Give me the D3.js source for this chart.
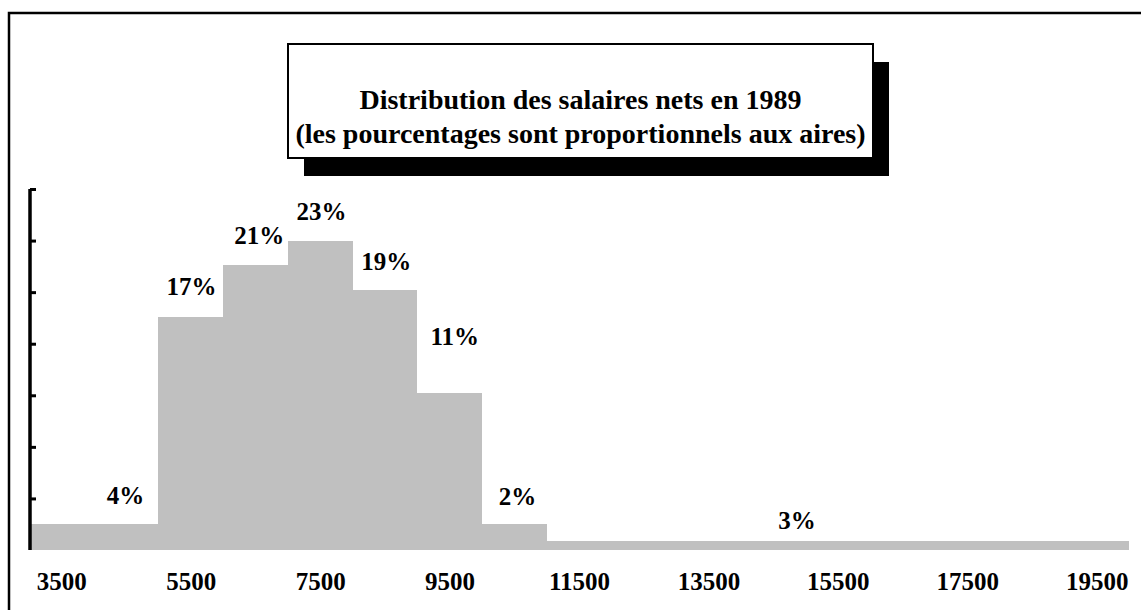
<!DOCTYPE html>
<html><head><meta charset="utf-8">
<script src="https://cdn.jsdelivr.net/npm/d3@7"></script>
<style>html,body{margin:0;padding:0;background:#fff;}svg{display:block;}</style>
</head><body>
<svg id="chart" width="1141" height="610"></svg>
<script>
// Bin edges (net salary, francs)
const binStart = [3000, 5000, 6000, 7000, 8000, 9000, 10000, 11000];
const binEnd   = [5000, 6000, 7000, 8000, 9000, 10000, 11000, 20000];
// Bar heights (density)
const density  = [2.0, 18.1, 22.1, 24.0, 20.2, 12.2, 2.0, 0.7];
// Percent labels
const pctLabels = ["4%", "17%", "21%", "23%", "19%", "11%", "2%", "3%"];
// Label anchor in data units (salary, density)
const labelSalary  = [4490, 5510, 6560, 7520, 8520, 9580, 10550, 14870];
const labelDensity = [3.6, 19.8, 23.7, 25.6, 21.7, 15.9, 3.5, 1.6];
// Axis ticks
const xTicks = [3500, 5500, 7500, 9500, 11500, 13500, 15500, 17500, 19500];
const yTicks = [4, 8, 12, 16, 20, 24, 28];
const titleLines = ["Distribution des salaires nets en 1989", "(les pourcentages sont proportionnels aux aires)"];

const svg = d3.select("#chart");
const x = d3.scaleLinear().domain([3000, 20000]).range([29, 1129]);
const y = d3.scaleLinear().domain([0, 28]).range([550, 189]);

// outer frame (top and left)
svg.append("path").attr("d", "M9,610 V13 H1141").attr("fill", "none")
  .attr("stroke", "#000").attr("stroke-width", 2.5);

// bars
svg.selectAll("rect.bar").data(density).join("rect").attr("class", "bar")
  .attr("x", (d, i) => Math.round(x(binStart[i])))
  .attr("width", (d, i) => Math.round(x(binEnd[i])) - Math.round(x(binStart[i])))
  .attr("y", d => Math.round(y(d)))
  .attr("height", d => Math.round(y(0)) - Math.round(y(d)))
  .attr("fill", "#c0c0c0")
  .attr("shape-rendering", "crispEdges");

// y axis (no labels, ticks on the right)
const yAxis = svg.append("g").attr("transform", "translate(30,0)")
  .call(d3.axisRight(y).tickValues(yTicks).tickSize(6).tickFormat(""));
yAxis.select(".domain").attr("d", `M0,${y(0)}V${y(28)}`).attr("stroke-width", 3.5);
yAxis.selectAll(".tick line").attr("stroke-width", 3);

// x axis labels
const xAxis = svg.append("g").attr("transform", `translate(0,${y(0)})`)
  .call(d3.axisBottom(x).tickValues(xTicks).tickSize(0).tickPadding(22).tickFormat(d3.format("d")));
xAxis.select(".domain").remove();
xAxis.selectAll("text").attr("font-family", "'Liberation Serif', serif")
  .attr("font-weight", "bold").attr("font-size", 25).attr("fill", "#000");

// percentage labels
svg.selectAll("text.pct").data(pctLabels).join("text").attr("class", "pct")
  .attr("x", (d, i) => x(labelSalary[i]))
  .attr("y", (d, i) => y(labelDensity[i]))
  .attr("text-anchor", "middle")
  .attr("font-family", "'Liberation Serif', serif").attr("font-weight", "bold")
  .attr("font-size", 25).text(d => d);

// title box with shadow
const bx = 288, by = 44, bw = 585, bh = 114;
svg.append("rect").attr("x", bx + 16).attr("y", by + 18).attr("width", bw).attr("height", bh).attr("fill", "#000");
svg.append("rect").attr("x", bx).attr("y", by).attr("width", bw).attr("height", bh)
  .attr("fill", "#fff").attr("stroke", "#000").attr("stroke-width", 2);
svg.selectAll("text.title").data(titleLines).join("text").attr("class", "title")
  .attr("x", bx + bw / 2).attr("y", (d, i) => 109 + i * 34)
  .attr("text-anchor", "middle")
  .attr("font-family", "'Liberation Serif', serif").attr("font-weight", "bold")
  .attr("font-size", 28).text(d => d);
</script>
</body></html>
